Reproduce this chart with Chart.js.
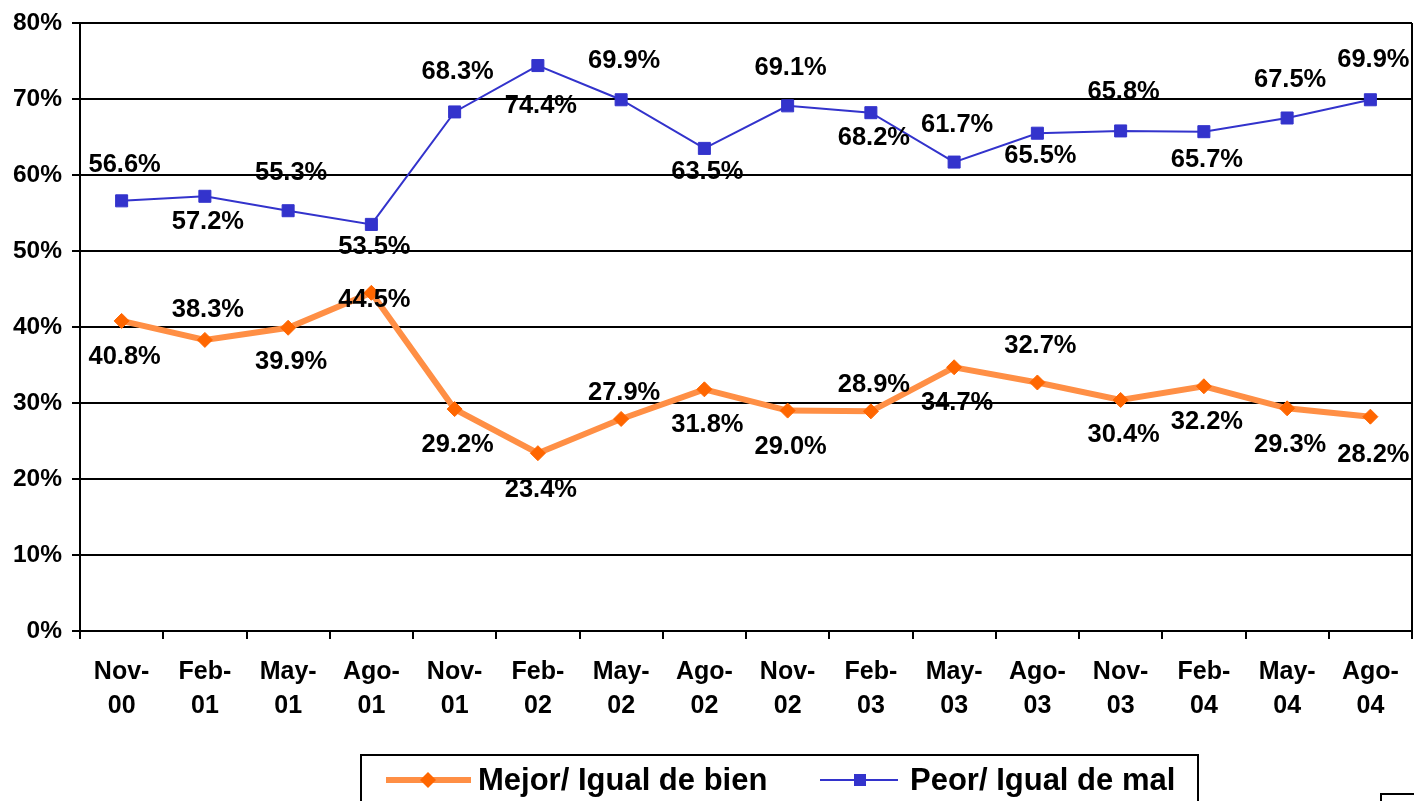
<!DOCTYPE html>
<html>
<head>
<meta charset="utf-8">
<script src="https://cdn.jsdelivr.net/npm/chart.js@4"></script>
<style>
  html, body { margin: 0; padding: 0; background: #fff; }
  #wrap { width: 1414px; height: 801px; }
</style>
</head>
<body>
<div id="wrap"><canvas id="myChart" width="1414" height="801"></canvas></div>
<script>
// categories (two-line labels)
var labels = [
  ['Nov-', '00'], ['Feb-', '01'], ['May-', '01'], ['Ago-', '01'],
  ['Nov-', '01'], ['Feb-', '02'], ['May-', '02'], ['Ago-', '02'],
  ['Nov-', '02'], ['Feb-', '03'], ['May-', '03'], ['Ago-', '03'],
  ['Nov-', '03'], ['Feb-', '04'], ['May-', '04'], ['Ago-', '04']
];

// series values (%)
var mejor = [40.8, 38.3, 39.9, 44.5, 29.2, 23.4, 27.9, 31.8, 29.0, 28.9, 34.7, 32.7, 30.4, 32.2, 29.3, 28.2];
var peor  = [56.6, 57.2, 55.3, 53.5, 68.3, 74.4, 69.9, 63.5, 69.1, 68.2, 61.7, 65.5, 65.8, 65.7, 67.5, 69.9];

// y axis ticks
var yTicks = [0, 10, 20, 30, 40, 50, 60, 70, 80];

// vertical offset of each value label from its point (px)
var mejorLabelDy = [36, -30, 34, 7, 36, 37, -26, 36, 36, -26, 36, -37, 35, 36, 37, 38];
var peorLabelDy  = [-36, 26, -38, 23, -40, 40, -39, 24, -38, 25, -37, 23, -39, 28, -38, -40];

var orange = '#FF8F45';
var orangeMark = '#FF6600';
var blue = '#3333CC';
var font = 'Liberation Sans, Arial, sans-serif';

var valueLabels = {
  id: 'valueLabels',
  afterDatasetsDraw: function (chart) {
    var ctx = chart.ctx;
    ctx.save();
    ctx.font = 'bold 25.5px ' + font;
    ctx.fillStyle = '#000';
    ctx.textAlign = 'center';
    ctx.textBaseline = 'middle';
    chart.data.datasets.forEach(function (ds, di) {
      var meta = chart.getDatasetMeta(di);
      meta.data.forEach(function (pt, i) {
        ctx.fillText(ds.data[i].toFixed(1) + '%', pt.x + 3, pt.y + ds.labelDy[i]);
      });
    });
    ctx.restore();
  }
};

var frame = {
  id: 'frame',
  afterDraw: function (chart) {
    var ctx = chart.ctx;
    var a = chart.chartArea;
    ctx.save();
    ctx.strokeStyle = '#000';
    ctx.lineWidth = 2;
    // right edge of the plot
    ctx.beginPath();
    ctx.moveTo(a.right, a.top);
    ctx.lineTo(a.right, a.bottom + 8);
    ctx.stroke();

    // legend box
    ctx.strokeRect(361, 755, 837, 60);
    var cy = 780;
    ctx.font = 'bold 31px ' + font;
    ctx.textBaseline = 'middle';
    ctx.textAlign = 'left';

    var ds0 = chart.data.datasets[0];
    ctx.strokeStyle = orange;
    ctx.lineWidth = 6;
    ctx.beginPath(); ctx.moveTo(386, cy); ctx.lineTo(471, cy); ctx.stroke();
    ctx.fillStyle = orangeMark;
    ctx.beginPath();
    ctx.moveTo(428, cy - 8); ctx.lineTo(436, cy); ctx.lineTo(428, cy + 8); ctx.lineTo(420, cy);
    ctx.closePath(); ctx.fill();
    ctx.fillStyle = '#000';
    ctx.fillText(ds0.label, 478, cy + 1);

    var ds1 = chart.data.datasets[1];
    ctx.strokeStyle = blue;
    ctx.lineWidth = 2;
    ctx.beginPath(); ctx.moveTo(820, cy); ctx.lineTo(898, cy); ctx.stroke();
    ctx.fillStyle = blue;
    ctx.fillRect(854, cy - 6, 12, 12);
    ctx.fillStyle = '#000';
    ctx.fillText(ds1.label, 910, cy + 1);

    // small box bottom right
    ctx.strokeStyle = '#000';
    ctx.lineWidth = 2;
    ctx.strokeRect(1381, 794, 40, 20);
    ctx.restore();
  }
};

var ctx = document.getElementById('myChart').getContext('2d');

var myChart = new Chart(ctx, {
  type: 'line',
  data: {
    labels: labels,
    datasets: [{
      label: 'Mejor/ Igual de bien',
      data: mejor,
      labelDy: mejorLabelDy,
      borderColor: orange,
      borderWidth: 6,
      pointStyle: 'rectRot',
      pointRadius: 7.5,
      pointBackgroundColor: orangeMark,
      pointBorderColor: orangeMark,
      pointBorderWidth: 1,
      tension: 0
    }, {
      label: 'Peor/ Igual de mal',
      data: peor,
      labelDy: peorLabelDy,
      borderColor: blue,
      borderWidth: 2,
      pointStyle: 'rect',
      pointRadius: 8.5,
      pointBackgroundColor: blue,
      pointBorderColor: blue,
      pointBorderWidth: 1,
      tension: 0
    }]
  },
  options: {
    responsive: false,
    animation: false,
    events: [],
    layout: { autoPadding: false, padding: { top: 23, right: 2, bottom: 0, left: 0 } },
    plugins: {
      legend: { display: false },
      tooltip: { enabled: false }
    },
    scales: {
      x: {
        offset: true,
        grid: { offset: true, drawOnChartArea: false, drawTicks: true, tickLength: 8, color: '#000', lineWidth: 2 },
        border: { color: '#000', width: 2 },
        ticks: {
          color: '#000',
          padding: 16,
          maxRotation: 0,
          autoSkip: false,
          font: { family: font, size: 25, weight: 'bold', lineHeight: 1.36 }
        },
        afterFit: function (s) { s.height = 170; s.paddingLeft = 0; s.paddingRight = 0; }
      },
      y: {
        min: 0,
        max: 80,
        afterBuildTicks: function (s) { s.ticks = yTicks.map(function (v) { return { value: v }; }); },
        grid: { color: '#000', lineWidth: 2, tickLength: 8, tickColor: '#000' },
        border: { color: '#000', width: 2 },
        ticks: {
          color: '#000',
          padding: 10,
          font: { family: font, size: 24.5, weight: 'bold' },
          callback: function (v) { return v + '%'; }
        },
        afterFit: function (s) { s.width = 80; s.paddingTop = 0; s.paddingBottom = 0; }
      }
    }
  },
  plugins: [valueLabels, frame]
});
</script>
</body>
</html>
